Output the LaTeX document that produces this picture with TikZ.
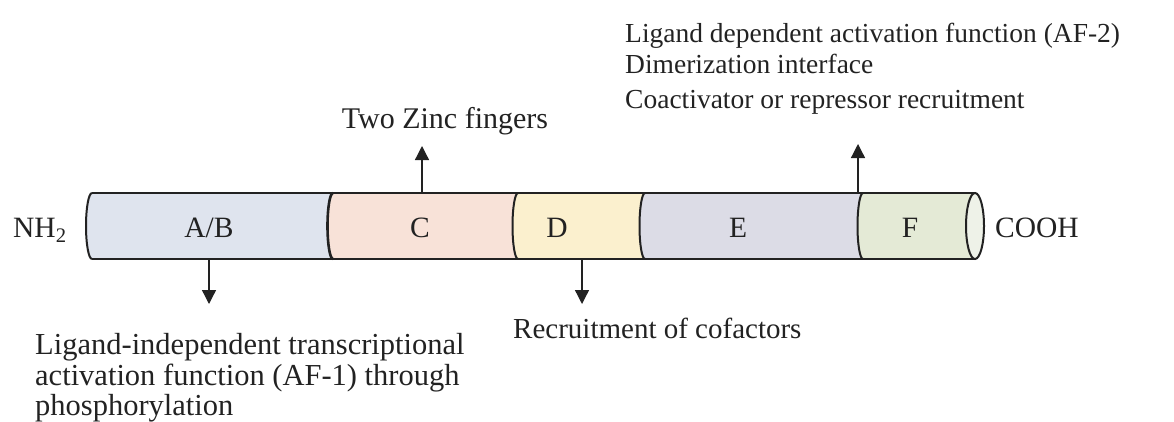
\documentclass[tikz,border=0pt]{standalone}
\usepackage{fontspec}
\setmainfont{Liberation Serif}
\usetikzlibrary{arrows.meta}
\definecolor{segAB}{HTML}{DFE4EE}
\definecolor{segC}{HTML}{F8E2D8}
\definecolor{segD}{HTML}{FBF0CE}
\definecolor{segE}{HTML}{DCDCE6}
\definecolor{segF}{HTML}{E4EAD6}
\definecolor{endface}{HTML}{EEF2E8}
\definecolor{ink}{HTML}{222222}
\newcommand\segfill[3]{\fill[#3] (#1,193) arc[start angle=90,end angle=270,x radius=5.5pt,y radius=33pt] -- (#2,259) arc[start angle=270,end angle=90,x radius=5.5pt,y radius=33pt] -- cycle;}
\begin{document}
\begin{tikzpicture}[x=1pt,y=-1pt,
  lbl/.style={font=\fontsize{29.5}{32}\selectfont, inner sep=0pt, text=ink},
  note/.style={font=\fontsize{29}{32}\selectfont, inner sep=0pt, text=ink, anchor=base west},
  bignote/.style={font=\fontsize{30.5}{33}\selectfont, inner sep=0pt, text=ink, anchor=base west},
  topnote/.style={font=\fontsize{27.5}{30}\selectfont, inner sep=0pt, text=ink, anchor=base west},
  outline/.style={draw=ink, line width=2pt},
  sepline/.style={draw=ink, line width=2.6pt},
  pointer/.style={draw=ink, line width=1.3pt, -{Triangle[length=14pt,width=14pt]}}]
\useasboundingbox (0,0) rectangle (1174,421);
% segment fills
\segfill{92}{333}{segAB}
\segfill{333}{518}{segC}
\segfill{518}{645}{segD}
\segfill{645}{863}{segE}
\fill[segF] (863,193) arc[start angle=90,end angle=270,x radius=5.5pt,y radius=33pt] -- (975,259) -- (975,193) -- cycle;
% outline
\draw[outline] (92,193) -- (975,193);
\draw[outline] (92,259) -- (975,259);
\draw[outline] (92,193) arc[start angle=90,end angle=270,x radius=6pt,y radius=33pt];
\draw[sepline] (333,193) arc[start angle=90,end angle=270,x radius=5.5pt,y radius=33pt];
\draw[outline] (518,193) arc[start angle=90,end angle=270,x radius=5.5pt,y radius=33pt];
\draw[outline] (645,193) arc[start angle=90,end angle=270,x radius=5.5pt,y radius=33pt];
\draw[outline] (863,193) arc[start angle=90,end angle=270,x radius=5.5pt,y radius=33pt];
\draw[outline, fill=endface] (975,226) ellipse[x radius=9pt, y radius=33pt];
% labels
\node[lbl, anchor=base west] (nh) at (13,237) {NH\textsubscript{2}};
\node[lbl, anchor=base] (ab) at (209,237) {A/B};
\node[lbl, anchor=base] (c) at (420,237) {C};
\node[lbl, anchor=base] (d) at (557,237) {D};
\node[lbl, anchor=base] (e) at (738,237) {E};
\node[lbl, anchor=base] (f) at (910,237) {F};
\node[lbl, anchor=base west] (cooh) at (995,237) {COOH};
% annotations
\node[lbl, anchor=base, font=\fontsize{30}{33}\selectfont] (zinc) at (445,128) {Two Zinc fingers};
\node[topnote] (af2a) at (625,42) {Ligand dependent activation function (AF-2)};
\node[topnote] (af2b) at (625,73) {Dimerization interface};
\node[topnote] (af2c) at (625,108) {Coactivator or repressor recruitment};
\node[bignote] (af1a) at (35,354) {Ligand-independent transcriptional};
\node[bignote] (af1b) at (35,385) {activation function (AF-1) through};
\node[bignote] (af1c) at (35,415) {phosphorylation};
\node[note] (cof) at (513,338) {Recruitment of cofactors};
% pointers
\coordinate (zfA) at (422,193); \coordinate (zfB) at (422,146);
\coordinate (afA) at (858,193); \coordinate (afB) at (858,144);
\coordinate (abA) at (209,259); \coordinate (abB) at (209,304);
\coordinate (dA) at (582,259);  \coordinate (dB) at (582,304);
\draw[pointer] (zfA) -- (zfB);
\draw[pointer] (afA) -- (afB);
\draw[pointer] (abA) -- (abB);
\draw[pointer] (dA) -- (dB);
\end{tikzpicture}
\end{document}
